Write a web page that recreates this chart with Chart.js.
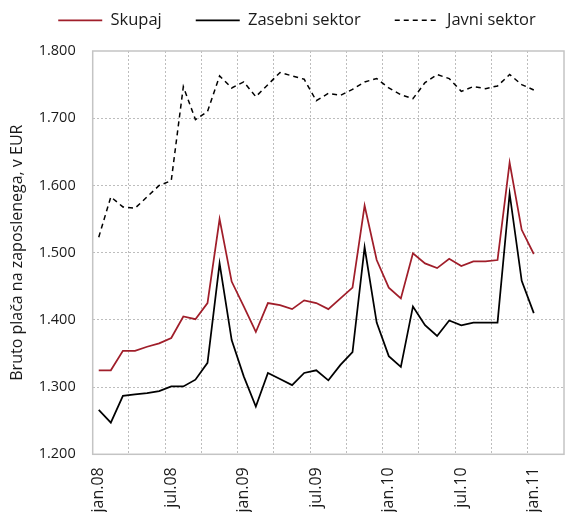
<!DOCTYPE html>
<html>
<head>
<meta charset="utf-8">
<script src="https://cdn.jsdelivr.net/npm/chart.js@4/dist/chart.umd.min.js"></script>
<style>
  html, body { margin: 0; padding: 0; background: #ffffff; }
  #wrap { width: 565px; height: 512px; position: relative; }
</style>
</head>
<body>
<div id="wrap"><canvas id="c" width="565" height="512"></canvas></div>
<script>
// ---- data ----
const categories = [
  'jan.08','feb.08','mar.08','apr.08','maj.08','jun.08','jul.08','avg.08','sep.08','okt.08','nov.08','dec.08',
  'jan.09','feb.09','mar.09','apr.09','maj.09','jun.09','jul.09','avg.09','sep.09','okt.09','nov.09','dec.09',
  'jan.10','feb.10','mar.10','apr.10','maj.10','jun.10','jul.10','avg.10','sep.10','okt.10','nov.10','dec.10',
  'jan.11','feb.11','mar.11'
];
const tickLabels = ['jan.08','jul.08','jan.09','jul.09','jan.10','jul.10','jan.11'];
const yTicks = [1200, 1300, 1400, 1500, 1600, 1700, 1800];

const skupaj = [1325,1325,1354,1354,1360,1365,1373,1405,1401,1425,1550,1457,
                1420,1382,1425,1422,1416,1429,1425,1416,1432,1448,1570,1489,
                1448,1432,1499,1484,1477,1491,1480,1487,1487,1489,1634,1534,
                1498];
const zasebni = [1266,1247,1287,1289,1291,1294,1301,1301,1311,1336,1484,1370,
                 1316,1271,1321,1312,1303,1321,1325,1310,1333,1352,1508,1396,
                 1346,1330,1420,1392,1376,1399,1392,1396,1396,1396,1588,1458,
                 1410];
const javni = [1523,1583,1568,1566,1583,1600,1607,1747,1698,1710,1763,1745,
               1754,1732,1750,1768,1763,1758,1726,1737,1734,1743,1754,1759,
               1745,1735,1729,1753,1765,1759,1740,1747,1744,1748,1765,1750,
               1742];

const seriesNames = ['Skupaj', 'Zasebni sektor', 'Javni sektor'];

// ---- styling ----
const FONT = "'Open Sans', 'Noto Sans', sans-serif";
const TEXT = '#1a1a1a';
const GRID = '#bdbdbd';
const RED = '#a01e2a';

const fmt = v => String(v).replace(/\B(?=(\d{3})+(?!\d))/g, '.');

const framePlugin = {
  id: 'frame',
  beforeDatasetsDraw(chart) {
    const { ctx, chartArea: a } = chart;
    ctx.save();
    ctx.strokeStyle = '#c4c4c4';
    ctx.lineWidth = 1.5;
    ctx.strokeRect(a.left, a.top, a.right - a.left, a.bottom - a.top);
    ctx.restore();
  }
};

const LEG_H = 51, LEG_PAD = 34, LEG_SHIFT = 15;
const legendPlacer = {
  id: 'legendPlacer',
  beforeLayout(chart) {
    const lg = chart.legend;
    if (lg && !lg._patched) {
      const fit = lg.fit.bind(lg);
      lg.fit = function () { fit(); this.height = LEG_H; };
      lg._patched = true;
    }
  },
  afterLayout(chart) {
    const lg = chart.legend;
    if (!lg) return;
    lg.top = 12 - LEG_PAD;
    lg.bottom = lg.top + LEG_H;
    lg.left += LEG_SHIFT;
    lg.right += LEG_SHIFT;
  }
};

new Chart(document.getElementById('c'), {
  type: 'line',
  data: {
    labels: categories,
    datasets: [
      { label: seriesNames[0], data: skupaj, borderColor: RED, backgroundColor: RED, borderWidth: 1.75 },
      { label: seriesNames[1], data: zasebni, borderColor: '#000000', backgroundColor: '#000000', borderWidth: 1.75 },
      { label: seriesNames[2], data: javni, borderColor: '#000000', backgroundColor: '#000000', borderWidth: 1.5, borderDash: [5, 4] }
    ]
  },
  options: {
    responsive: false,
    animation: false,
    devicePixelRatio: 1,
    layout: { padding: { left: 0, right: 1, top: 0, bottom: 0 } },
    elements: { point: { radius: 0, hoverRadius: 0 }, line: { tension: 0 } },
    plugins: {
      tooltip: { enabled: false },
      legend: {
        position: 'top',
        labels: {
          usePointStyle: true,
          pointStyle: 'line',
          pointStyleWidth: 44,
          padding: LEG_PAD,
          color: TEXT,
          font: { family: FONT, size: 16.5 },
          generateLabels(chart) {
            const items = Chart.defaults.plugins.legend.labels.generateLabels(chart);
            return items.map(it => {
              const ds = chart.data.datasets[it.datasetIndex];
              it.lineDash = ds.borderDash || [];
              it.lineWidth = ds.borderWidth;
              it.strokeStyle = ds.borderColor;
              it.fillStyle = ds.borderColor;
              it.pointStyle = 'line';
              return it;
            });
          }
        }
      }
    },
    scales: {
      x: {
        type: 'category',
        offset: true,
        grid: {
          offset: true,
          drawTicks: false,
          lineWidth: 1,
          color: c => (c.index !== undefined && c.index > 0 && c.index % 3 === 0) ? GRID : 'rgba(0,0,0,0)'
        },
        border: { display: false, dash: [2, 2] },
        ticks: {
          autoSkip: false,
          maxRotation: 90,
          minRotation: 90,
          padding: 13,
          color: TEXT,
          font: { family: FONT, size: 16 },
          callback: (v, i) => tickLabels.includes(categories[i]) ? categories[i] : ''
        },
        afterFit(s) { s.height = 57.7; s.paddingLeft = 0; s.paddingRight = 0; }
      },
      y: {
        min: yTicks[0],
        max: yTicks[yTicks.length - 1],
        afterBuildTicks(s) { s.ticks = yTicks.map(v => ({ value: v })); },
        grid: {
          drawTicks: false,
          lineWidth: 1,
          color: c => (c.tick && (c.tick.value === yTicks[0] || c.tick.value === yTicks[yTicks.length - 1])) ? 'rgba(0,0,0,0)' : GRID
        },
        border: { display: false, dash: [2, 2] },
        ticks: {
          padding: 17,
          color: TEXT,
          font: { family: FONT, size: 14.5 },
          callback: v => fmt(v)
        },
        title: {
          display: true,
          text: 'Bruto plača na zaposlenega, v EUR',
          color: TEXT,
          font: { family: FONT, size: 16 },
          padding: { top: 8, bottom: 0 }
        },
        afterFit(s) { s.width = 92.7; }
      }
    }
  },
  plugins: [framePlugin, legendPlacer]
});
</script>
</body>
</html>
